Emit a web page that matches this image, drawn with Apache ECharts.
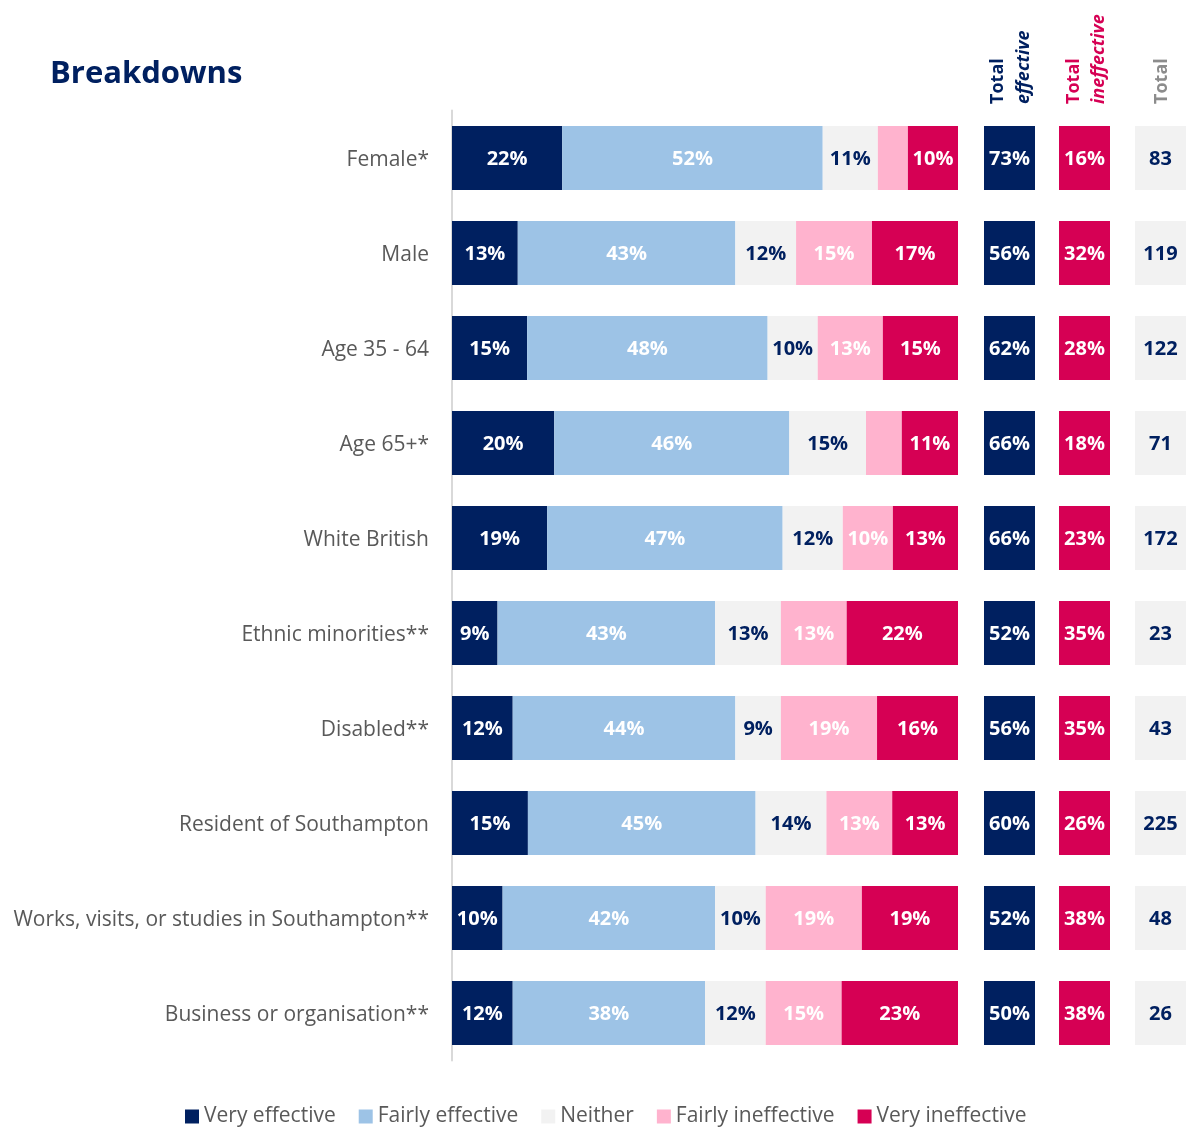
<!DOCTYPE html>
<html>
<head>
<meta charset="utf-8">
<title>Breakdowns</title>
<script src="https://cdn.jsdelivr.net/npm/echarts@6/dist/echarts.min.js"></script>
<style>
  html, body { margin: 0; padding: 0; background: #fff; }
  #chart { width: 1204px; height: 1131px; }
</style>
</head>
<body>
<div id="chart"></div>
<script>
// groups, top to bottom
var categories = ['Female*', 'Male', 'Age 35 - 64', 'Age 65+*', 'White British', 'Ethnic minorities**',
  'Disabled**', 'Resident of Southampton', 'Works, visits, or studies in Southampton**', 'Business or organisation**'];

// % per answer
var veryEffective     = [22, 13, 15, 20, 19, 9, 12, 15, 10, 12];
var fairlyEffective   = [52, 43, 48, 46, 47, 43, 44, 45, 42, 38];
var neither           = [11, 12, 10, 15, 12, 13, 9, 14, 10, 12];
var fairlyIneffective = [6, 15, 13, 7, 10, 13, 19, 13, 19, 15];
var veryIneffective   = [10, 17, 15, 11, 13, 22, 16, 13, 19, 23];

// side columns
var totalEffective   = [73, 56, 62, 66, 66, 52, 56, 60, 52, 50];
var totalIneffective = [16, 32, 28, 18, 23, 35, 35, 26, 38, 38];
var totalBase        = [83, 119, 122, 71, 172, 23, 43, 225, 48, 26];

var NAVY = '#002060', LIGHT = '#9dc3e6', GREY = '#f2f2f2', PINK = '#ffb3ce', RED = '#d60054';
var FONT = '"Open Sans", sans-serif';

var dom = document.getElementById('chart');
var myChart = echarts.init(dom);

// each row is drawn as a full bar (rounded % don't always add to 100)
var rowSum = categories.map(function (c, i) {
  return veryEffective[i] + fairlyEffective[i] + neither[i] + fairlyIneffective[i] + veryIneffective[i];
});

function stackSeries(name, arr, color, labelColor) {
  return {
    name: name,
    type: 'bar',
    stack: 'all',
    barWidth: 64,
    xAxisIndex: 0,
    yAxisIndex: 0,
    itemStyle: { color: color },
    data: arr.map(function (v, i) {
      return { value: v / rowSum[i] * 100, raw: v };
    }),
    label: {
      show: true,
      position: 'inside',
      offset: [0, 1.5],
      color: labelColor,
      fontFamily: FONT,
      fontWeight: 'bold',
      fontSize: 20,
      formatter: function (p) {
        return p.data.raw >= 9 ? p.data.raw + '%' : '';
      }
    }
  };
}

function boxSeries(idx, arr, color, labelColor, suffix) {
  return {
    name: 'box' + idx,
    type: 'bar',
    barWidth: 64,
    xAxisIndex: idx,
    yAxisIndex: idx,
    itemStyle: { color: color },
    data: arr.map(function (v) { return { value: 1, raw: v }; }),
    label: {
      show: true,
      position: 'inside',
      offset: [0, 1.5],
      color: labelColor,
      fontFamily: FONT,
      fontWeight: 'bold',
      fontSize: 20,
      formatter: function (p) { return p.data.raw + suffix; }
    }
  };
}

var gridTop = 110.5, gridHeight = 950;
var boxLefts = [984, 1059, 1135];

var grids = [{ left: 452, width: 506, top: gridTop, height: gridHeight }];
var xAxes = [{ type: 'value', min: 0, max: 100, show: false, gridIndex: 0 }];
var yAxes = [{
  type: 'category', gridIndex: 0, inverse: true, data: categories,
  axisLine: { lineStyle: { color: '#d9d9d9', width: 2 } },
  axisTick: { show: false },
  axisLabel: {
    color: '#595959', fontFamily: FONT, fontSize: 21, margin: 23,
    formatter: function (v) { return '{t|' + v + '}'; },
    rich: { t: { color: '#595959', fontFamily: FONT, fontSize: 21, padding: [5, 0, 0, 0] } }
  }
}];
boxLefts.forEach(function (left, k) {
  grids.push({ left: left, width: 51, top: gridTop, height: gridHeight });
  xAxes.push({ type: 'value', min: 0, max: 1, show: false, gridIndex: k + 1 });
  yAxes.push({ type: 'category', gridIndex: k + 1, inverse: true, data: categories, show: false });
});

function headText(x, y, text, color, italic) {
  return {
    type: 'text', x: x, y: y, rotation: Math.PI / 2,
    style: {
      text: text, fill: color, align: 'left', verticalAlign: 'top',
      font: (italic ? 'italic ' : '') + 'bold 18px ' + FONT
    }
  };
}

var option = {
  animation: false,
  title: {
    text: 'Breakdowns', left: 45, top: 54,
    textStyle: { color: NAVY, fontFamily: FONT, fontWeight: 'bold', fontSize: 31 }
  },
  legend: {
    data: ['Very effective', 'Fairly effective', 'Neither', 'Fairly ineffective', 'Very ineffective'],
    left: 180, top: 1101, icon: 'rect', itemWidth: 14, itemHeight: 14, itemGap: 23,
    textStyle: { color: '#595959', fontFamily: FONT, fontSize: 21, padding: [2, 0, 0, 0] }
  },
  grid: grids,
  xAxis: xAxes,
  yAxis: yAxes,
  series: [
    stackSeries('Very effective', veryEffective, NAVY, '#fff'),
    stackSeries('Fairly effective', fairlyEffective, LIGHT, '#fff'),
    stackSeries('Neither', neither, GREY, NAVY),
    stackSeries('Fairly ineffective', fairlyIneffective, PINK, '#fff'),
    stackSeries('Very ineffective', veryIneffective, RED, '#fff'),
    boxSeries(1, totalEffective, NAVY, '#fff', '%'),
    boxSeries(2, totalIneffective, RED, '#fff', '%'),
    boxSeries(3, totalBase, GREY, NAVY, '')
  ],
  graphic: [
    headText(989, 104, 'Total', NAVY, false),
    headText(1015, 104, 'effective', NAVY, true),
    headText(1065, 104, 'Total', RED, false),
    headText(1090, 104, 'ineffective', RED, true),
    headText(1153, 104, 'Total', '#8c8c8c', false)
  ]
};

if (option && typeof option === 'object') {
  myChart.setOption(option, true);
}
</script>
</body>
</html>
